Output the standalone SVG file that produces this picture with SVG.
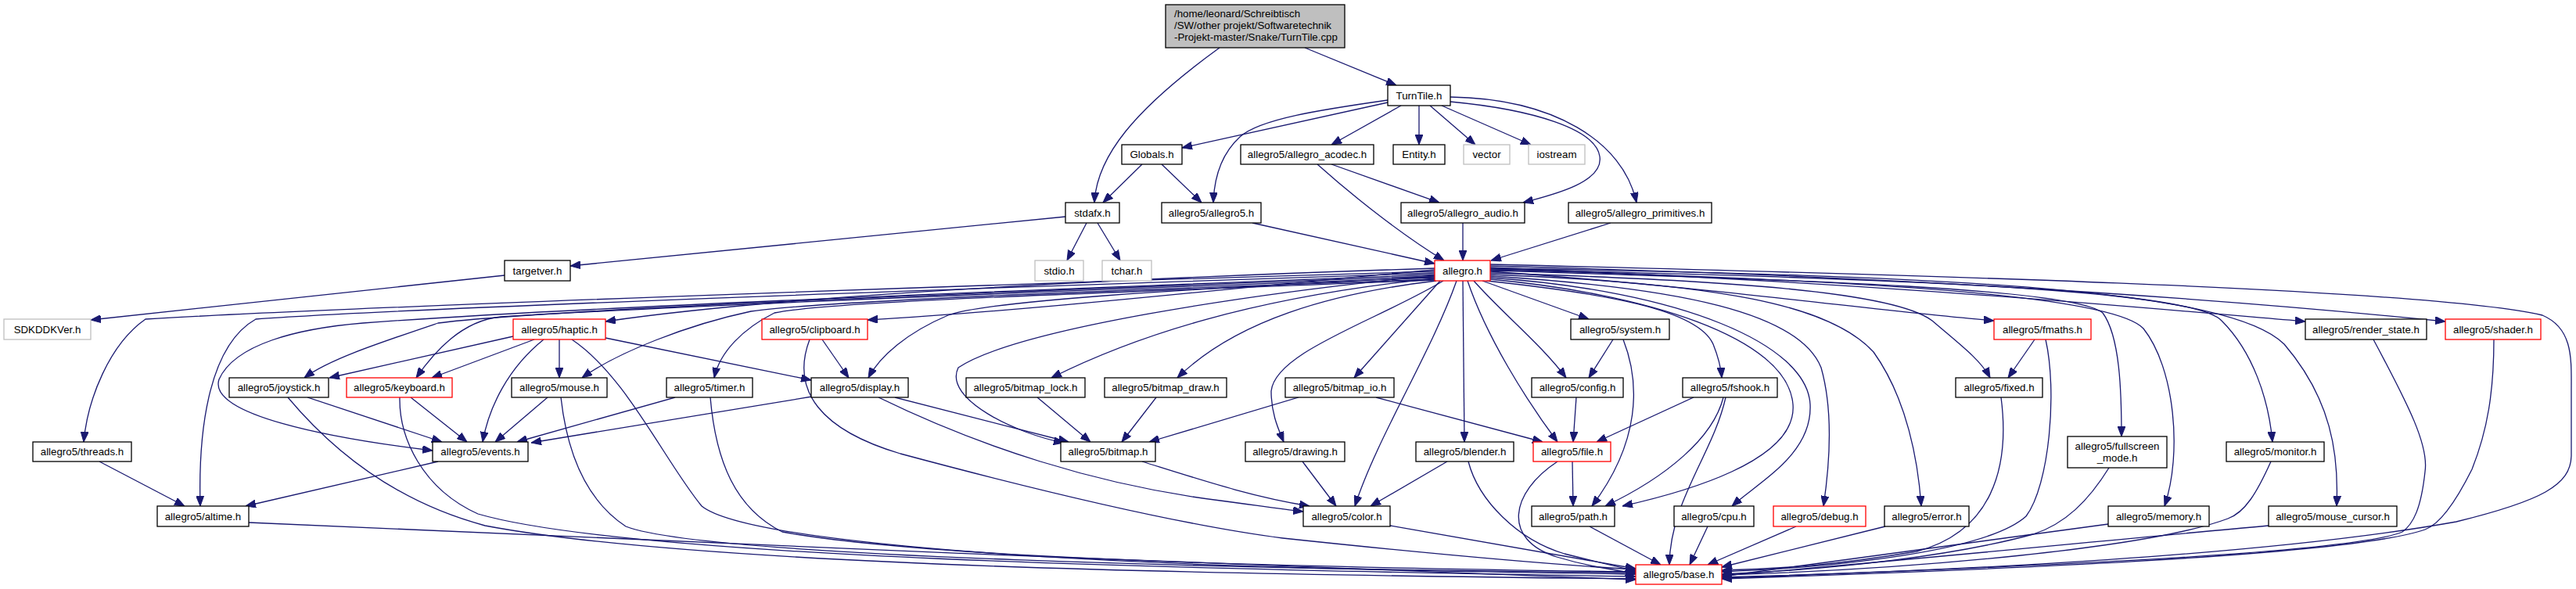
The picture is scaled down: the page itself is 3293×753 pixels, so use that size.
<svg xmlns="http://www.w3.org/2000/svg" width="3293" height="753" viewBox="0 0 3293 753">
<style>
.node rect{fill:#fff;stroke:#000;stroke-width:1.3}
.node.gray rect{stroke:#bfbfbf}
.node.red rect{stroke:#ff0000}
.node.root rect{fill:#bfbfbf}
.node text{font-family:"Liberation Sans",Arial,sans-serif;font-size:13.3px;fill:#000;text-anchor:middle}
.node.root text{text-anchor:start}
#edges path{fill:none;stroke:#191970;stroke-width:1.3;marker-end:url(#a)}
</style>
<defs>
<marker id="a" markerWidth="13" markerHeight="10" refX="13" refY="5" orient="auto" markerUnits="userSpaceOnUse"><path d="M0,0 L13,5 L0,10 z" fill="#191970" stroke="#191970" stroke-width="1"/></marker>
</defs>
<rect width="3293" height="753" fill="#fff"/>
<g id="edges">
<path d="M1559,61 C1450,140 1402,200 1399,259"/>
<path d="M1668,61 L1785,109"/>
<path d="M1774,131 L1511,189"/>
<path d="M1774,128 C1690,140 1610,152 1585,175 C1560,198 1552,230 1551,259"/>
<path d="M1791,135 L1702,185"/>
<path d="M1814,135 L1814,185"/>
<path d="M1828,135 L1886,185"/>
<path d="M1843,135 L1957,185"/>
<path d="M1854,130 C1960,140 2040,165 2045,200 C2050,232 1990,248 1947,259"/>
<path d="M1854,124 C1985,126 2075,180 2092,259"/>
<path d="M1460,210 L1410,259"/>
<path d="M1485,210 L1536,259"/>
<path d="M1362,277 L729,340"/>
<path d="M1389,285 L1364,333"/>
<path d="M1403,285 L1432,333"/>
<path d="M645,352 L116,409"/>
<path d="M1601,285 L1834,337"/>
<path d="M1684,210 C1740,260 1800,305 1846,333"/>
<path d="M1702,210 L1840,259"/>
<path d="M1870,285 L1870,333"/>
<path d="M2059,285 L1906,333"/>
<path d="M1834,343 C1300,360 950,385 774,411"/>
<path d="M1834,345 C1600,365 1350,395 1109,409"/>
<path d="M1834,347 C1200,365 400,395 186,408 C140,440 112,510 107,565"/>
<path d="M1834,349 C1200,370 500,395 327,408 C270,440 253,540 256,647"/>
<path d="M1834,351 C1200,375 700,395 464,413 C380,420 300,440 280,485 C265,530 420,560 553,576"/>
<path d="M1834,353 C1300,372 700,395 560,413 C480,440 420,460 389,483"/>
<path d="M1834,355 C1250,375 800,395 640,405 C590,410 555,450 532,483"/>
<path d="M1834,357 C1400,372 1050,385 960,398 C880,415 790,450 744,483"/>
<path d="M1834,358 C1400,375 1060,385 990,400 C950,420 920,450 913,483"/>
<path d="M1834,354 C1500,370 1260,385 1212,403 C1160,425 1125,455 1110,483"/>
<path d="M1834,352 C1600,375 1300,420 1225,470 C1205,510 1300,555 1360,566"/>
<path d="M1834,356 C1600,380 1450,430 1344,483"/>
<path d="M1836,359 C1700,375 1580,410 1505,483"/>
<path d="M1841,359 L1731,483"/>
<path d="M1845,359 C1760,410 1630,450 1625,500 C1625,530 1635,550 1641,565"/>
<path d="M1862,359 C1830,450 1760,560 1732,647"/>
<path d="M1870,359 L1872,565"/>
<path d="M1876,359 C1900,430 1950,510 1991,565"/>
<path d="M1884,359 C1920,400 1970,440 2002,483"/>
<path d="M1895,359 L2031,408"/>
<path d="M1900,359 C2050,375 2170,395 2190,440 C2196,455 2200,470 2201,483"/>
<path d="M1905,357 C2100,375 2285,430 2292,517 C2298,590 2150,630 2074,647"/>
<path d="M1905,355 C2150,372 2310,440 2314,517 C2317,580 2250,615 2214,647"/>
<path d="M1905,353 C2150,368 2300,400 2328,470 C2345,530 2338,600 2331,647"/>
<path d="M1905,351 C2200,362 2340,390 2395,450 C2438,510 2452,590 2456,647"/>
<path d="M1905,347 C2200,368 2400,398 2549,410"/>
<path d="M1905,349 C2200,358 2420,372 2470,410 C2505,440 2532,460 2544,483"/>
<path d="M1905,346 C2300,358 2650,368 2688,400 C2710,430 2712,500 2712,558"/>
<path d="M1905,345 C2400,358 2700,378 2740,420 C2780,470 2790,580 2767,647"/>
<path d="M1905,344 C2400,356 2800,368 2840,410 C2880,450 2900,510 2905,565"/>
<path d="M1905,343 C2500,352 2850,370 2920,440 C2980,510 2990,580 2987,647"/>
<path d="M1905,342 C2400,362 2700,390 2947,411"/>
<path d="M1905,340 C2500,355 2900,388 3126,411"/>
<path d="M1905,338 C2400,350 3100,368 3250,403 C3290,420 3287,460 3287,500 L3287,583 C3286,620 3250,640 3140,667 C2900,710 2500,730 2201,738"/>
<path d="M656,430 L421,483"/>
<path d="M683,434 L552,483"/>
<path d="M715,434 L715,483"/>
<path d="M695,434 C650,470 625,520 617,565"/>
<path d="M774,432 L1037,486"/>
<path d="M731,434 C800,480 850,590 897,647 C950,690 1300,715 1640,725 C1800,730 1950,732 2091,734"/>
<path d="M1051,434 L1085,483"/>
<path d="M1035,434 C1010,500 1050,550 1151,580 C1300,620 1500,670 1640,688 C1800,705 1950,720 2091,728"/>
<path d="M525,508 L597,565"/>
<path d="M511,508 C510,560 540,625 611,657 C800,712 1500,728 2091,737"/>
<path d="M393,508 L565,565"/>
<path d="M368,508 C420,570 500,640 620,672 C900,725 1600,735 2091,740"/>
<path d="M700,508 L633,565"/>
<path d="M717,508 C725,580 750,640 800,673 C900,712 1600,728 2091,732"/>
<path d="M863,508 L661,565"/>
<path d="M908,508 C915,590 940,650 1000,680 C1200,716 1700,726 2091,731"/>
<path d="M1038,507 L679,566"/>
<path d="M1144,508 L1366,565"/>
<path d="M1123,508 C1250,570 1400,620 1560,640 C1600,645 1630,650 1666,654"/>
<path d="M1326,508 L1394,565"/>
<path d="M1478,508 L1434,565"/>
<path d="M1660,508 L1469,565"/>
<path d="M1759,508 L1972,565"/>
<path d="M2062,434 L2031,483"/>
<path d="M2075,434 C2097,490 2097,565 2035,647"/>
<path d="M2015,508 L2011,565"/>
<path d="M2165,508 L2041,565"/>
<path d="M2203,508 C2190,560 2130,610 2052,647"/>
<path d="M2206,508 C2190,580 2135,640 2134,722"/>
<path d="M2601,434 L2567,483"/>
<path d="M2615,434 C2630,500 2620,620 2590,660 C2540,705 2350,725 2201,731"/>
<path d="M2558,508 C2570,600 2545,680 2450,705 C2350,722 2280,727 2201,729"/>
<path d="M127,590 L236,647"/>
<path d="M560,590 L314,647"/>
<path d="M318,668 C800,692 1600,722 2091,741"/>
<path d="M1460,590 C1540,615 1600,635 1674,647"/>
<path d="M1665,590 L1708,647"/>
<path d="M1850,590 L1752,647"/>
<path d="M1877,590 C1890,640 1940,690 2000,708 C2040,718 2065,724 2091,730"/>
<path d="M2010,590 L2011,647"/>
<path d="M1991,590 C1930,630 1920,690 1990,712 C2030,724 2060,728 2091,733"/>
<path d="M2696,598 C2670,640 2640,670 2599,683 C2500,710 2350,728 2201,734"/>
<path d="M2903,590 C2885,630 2870,655 2848,663 C2750,700 2450,728 2201,735"/>
<path d="M1777,672 L2091,727"/>
<path d="M2032,673 L2123,722"/>
<path d="M2183,673 L2160,722"/>
<path d="M2296,673 L2183,722"/>
<path d="M2410,673 L2201,725"/>
<path d="M2695,670 L2201,737"/>
<path d="M2900,672 C2700,690 2400,720 2201,736"/>
<path d="M3034,434 C3080,520 3105,570 3100,603 C3095,650 3085,670 3071,680 C3000,710 2500,728 2201,739"/>
<path d="M3188,434 C3188,500 3180,550 3160,600 C3140,640 3120,670 3100,677 C3000,712 2500,730 2201,740"/>
</g>
<g id="n_root" class="node root"><rect x="1490" y="6" width="229" height="55"/><text x="1501" y="21.7">/home/leonard/Schreibtisch</text><text x="1501" y="36.7">/SW/other projekt/Softwaretechnik</text><text x="1501" y="51.7">-Projekt-master/Snake/TurnTile.cpp</text></g>
<g id="n_turntile" class="node"><rect x="1774" y="109" width="80" height="26"/><text x="1814" y="126.5">TurnTile.h</text></g>
<g id="n_globals" class="node"><rect x="1434" y="185" width="77" height="25"/><text x="1472.5" y="202">Globals.h</text></g>
<g id="n_acodec" class="node"><rect x="1586" y="185" width="170" height="25"/><text x="1671" y="202">allegro5/allegro_acodec.h</text></g>
<g id="n_entity" class="node"><rect x="1781" y="185" width="66" height="25"/><text x="1814" y="202">Entity.h</text></g>
<g id="n_vector" class="node gray"><rect x="1871" y="185" width="59" height="25"/><text x="1900.5" y="202">vector</text></g>
<g id="n_iostream" class="node gray"><rect x="1954" y="185" width="72" height="25"/><text x="1990" y="202">iostream</text></g>
<g id="n_stdafx" class="node"><rect x="1362" y="259" width="69" height="26"/><text x="1396.5" y="276.5">stdafx.h</text></g>
<g id="n_allegro5" class="node"><rect x="1485" y="259" width="127" height="26"/><text x="1548.5" y="276.5">allegro5/allegro5.h</text></g>
<g id="n_audio" class="node"><rect x="1791" y="259" width="158" height="26"/><text x="1870" y="276.5">allegro5/allegro_audio.h</text></g>
<g id="n_primitives" class="node"><rect x="2005" y="259" width="183" height="26"/><text x="2096.5" y="276.5">allegro5/allegro_primitives.h</text></g>
<g id="n_targetver" class="node"><rect x="645" y="333" width="84" height="26"/><text x="687" y="350.5">targetver.h</text></g>
<g id="n_stdio" class="node gray"><rect x="1323" y="333" width="62" height="26"/><text x="1354" y="350.5">stdio.h</text></g>
<g id="n_tchar" class="node gray"><rect x="1409" y="333" width="63" height="26"/><text x="1440.5" y="350.5">tchar.h</text></g>
<g id="n_allegro" class="node red"><rect x="1834" y="333" width="71" height="26"/><text x="1869.5" y="350.5">allegro.h</text></g>
<g id="n_sdk" class="node gray"><rect x="5" y="408" width="111" height="26"/><text x="60.5" y="425.5">SDKDDKVer.h</text></g>
<g id="n_haptic" class="node red"><rect x="656" y="408" width="118" height="26"/><text x="715" y="425.5">allegro5/haptic.h</text></g>
<g id="n_clipboard" class="node red"><rect x="974" y="408" width="135" height="26"/><text x="1041.5" y="425.5">allegro5/clipboard.h</text></g>
<g id="n_system" class="node"><rect x="2008" y="408" width="126" height="26"/><text x="2071" y="425.5">allegro5/system.h</text></g>
<g id="n_fmaths" class="node red"><rect x="2549" y="408" width="124" height="26"/><text x="2611" y="425.5">allegro5/fmaths.h</text></g>
<g id="n_render_state" class="node"><rect x="2947" y="408" width="155" height="26"/><text x="3024.5" y="425.5">allegro5/render_state.h</text></g>
<g id="n_shader" class="node red"><rect x="3126" y="408" width="122" height="26"/><text x="3187" y="425.5">allegro5/shader.h</text></g>
<g id="n_joystick" class="node"><rect x="293" y="483" width="127" height="25"/><text x="356.5" y="500">allegro5/joystick.h</text></g>
<g id="n_keyboard" class="node red"><rect x="443" y="483" width="135" height="25"/><text x="510.5" y="500">allegro5/keyboard.h</text></g>
<g id="n_mouse" class="node"><rect x="654" y="483" width="122" height="25"/><text x="715" y="500">allegro5/mouse.h</text></g>
<g id="n_timer" class="node"><rect x="852" y="483" width="110" height="25"/><text x="907" y="500">allegro5/timer.h</text></g>
<g id="n_display" class="node"><rect x="1037" y="483" width="124" height="25"/><text x="1099" y="500">allegro5/display.h</text></g>
<g id="n_bitmap_lock" class="node"><rect x="1235" y="483" width="152" height="25"/><text x="1311" y="500">allegro5/bitmap_lock.h</text></g>
<g id="n_bitmap_draw" class="node"><rect x="1412" y="483" width="156" height="25"/><text x="1490" y="500">allegro5/bitmap_draw.h</text></g>
<g id="n_bitmap_io" class="node"><rect x="1643" y="483" width="139" height="25"/><text x="1712.5" y="500">allegro5/bitmap_io.h</text></g>
<g id="n_config" class="node"><rect x="1958" y="483" width="117" height="25"/><text x="2016.5" y="500">allegro5/config.h</text></g>
<g id="n_fshook" class="node"><rect x="2151" y="483" width="121" height="25"/><text x="2211.5" y="500">allegro5/fshook.h</text></g>
<g id="n_fixed" class="node"><rect x="2500" y="483" width="111" height="25"/><text x="2555.5" y="500">allegro5/fixed.h</text></g>
<g id="n_threads" class="node"><rect x="42" y="565" width="126" height="25"/><text x="105" y="582">allegro5/threads.h</text></g>
<g id="n_events" class="node"><rect x="553" y="565" width="122" height="25"/><text x="614" y="582">allegro5/events.h</text></g>
<g id="n_bitmap" class="node"><rect x="1356" y="565" width="121" height="25"/><text x="1416.5" y="582">allegro5/bitmap.h</text></g>
<g id="n_drawing" class="node"><rect x="1592" y="565" width="127" height="25"/><text x="1655.5" y="582">allegro5/drawing.h</text></g>
<g id="n_blender" class="node"><rect x="1810" y="565" width="125" height="25"/><text x="1872.5" y="582">allegro5/blender.h</text></g>
<g id="n_file" class="node red"><rect x="1960" y="565" width="99" height="25"/><text x="2009.5" y="582">allegro5/file.h</text></g>
<g id="n_fullscreen" class="node"><rect x="2643" y="558" width="127" height="40"/><text x="2706.5" y="575">allegro5/fullscreen</text><text x="2706.5" y="590">_mode.h</text></g>
<g id="n_monitor" class="node"><rect x="2846" y="565" width="125" height="25"/><text x="2908.5" y="582">allegro5/monitor.h</text></g>
<g id="n_altime" class="node"><rect x="201" y="647" width="117" height="26"/><text x="259.5" y="664.5">allegro5/altime.h</text></g>
<g id="n_color" class="node"><rect x="1666" y="647" width="111" height="26"/><text x="1721.5" y="664.5">allegro5/color.h</text></g>
<g id="n_path" class="node"><rect x="1958" y="647" width="106" height="26"/><text x="2011" y="664.5">allegro5/path.h</text></g>
<g id="n_cpu" class="node"><rect x="2140" y="647" width="102" height="26"/><text x="2191" y="664.5">allegro5/cpu.h</text></g>
<g id="n_debug" class="node red"><rect x="2267" y="647" width="118" height="26"/><text x="2326" y="664.5">allegro5/debug.h</text></g>
<g id="n_error" class="node"><rect x="2409" y="647" width="108" height="26"/><text x="2463" y="664.5">allegro5/error.h</text></g>
<g id="n_memory" class="node"><rect x="2695" y="647" width="129" height="26"/><text x="2759.5" y="664.5">allegro5/memory.h</text></g>
<g id="n_mouse_cursor" class="node"><rect x="2900" y="647" width="164" height="26"/><text x="2982" y="664.5">allegro5/mouse_cursor.h</text></g>
<g id="n_base" class="node red"><rect x="2091" y="722" width="110" height="25"/><text x="2146" y="739">allegro5/base.h</text></g>
</svg>
